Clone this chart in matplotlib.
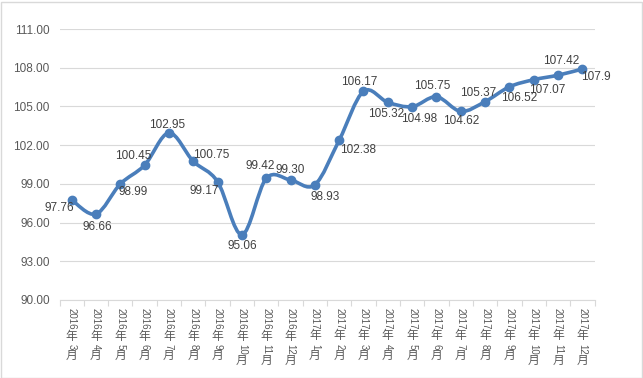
import re
import matplotlib
matplotlib.use("Agg")
import matplotlib.pyplot as plt
from matplotlib.path import Path
from matplotlib.patches import PathPatch, Rectangle

# Daten
months = ["2016年3月", "2016年4月", "2016年5月", "2016年6月", "2016年7月", "2016年8月",
          "2016年9月", "2016年10月", "2016年11月", "2016年12月", "2017年1月", "2017年2月",
          "2017年3月", "2017年4月", "2017年5月", "2017年6月", "2017年7月", "2017年8月",
          "2017年9月", "2017年10月", "2017年11月", "2017年12月"]
values = [97.76, 96.66, 98.99, 100.45, 102.95, 100.75, 99.17, 95.06, 99.42, 99.30, 98.93,
          102.38, 106.17, 105.32, 104.98, 105.75, 104.62, 105.37, 106.52, 107.07, 107.42, 107.9]
value_labels = ["97.76", "96.66", "98.99", "100.45", "102.95", "100.75", "99.17", "95.06",
                "99.42", "99.30", "98.93", "102.38", "106.17", "105.32", "104.98", "105.75",
                "104.62", "105.37", "106.52", "107.07", "107.42", "107.9"]
y_ticks = [90, 93, 96, 99, 102, 105, 108, 111]

# Lage der Beschriftungen (Pixel relativ zum Punkt, +y = nach unten)
label_offsets = [(-12, 8), (1, 13), (13, 8), (-11, -9), (-2, -8), (18, -6), (-13, 9),
                 (0, 11), (-6, -12), (0, -10), (10, 12), (19, 10), (-4, -9), (-2, 12),
                 (7, 12), (-4, -11), (0, 10), (-7, -9), (10, 11), (14, 10), (3, -14), (14, 8)]

LINE = "#4a7ebb"
GRID = "#d9d9d9"
TXT = "#595959"

plt.rcParams["font.family"] = ["Liberation Sans", "Noto Sans CJK SC", "DejaVu Sans"]


def smooth_path(xs, ys):
    # Bezier-Kurve wie Excel "geglättete Linie"
    verts = [(xs[0], ys[0])]
    codes = [Path.MOVETO]
    n = len(xs)
    for i in range(n - 1):
        x0, y0 = (xs[i - 1], ys[i - 1]) if i > 0 else (xs[i], ys[i])
        x3, y3 = (xs[i + 2], ys[i + 2]) if i + 2 < n else (xs[i + 1], ys[i + 1])
        c1 = (xs[i] + (xs[i + 1] - x0) / 6, ys[i] + (ys[i + 1] - y0) / 6)
        c2 = (xs[i + 1] - (x3 - xs[i]) / 6, ys[i + 1] - (y3 - ys[i]) / 6)
        verts += [c1, c2, (xs[i + 1], ys[i + 1])]
        codes += [Path.CURVE4] * 3
    return Path(verts, codes)


fig = plt.figure(figsize=(6.43, 3.78), dpi=100)
ax = fig.add_axes([59.5 / 643, 78 / 378, 535 / 643, 271 / 378])

x = list(range(len(values)))
ax.add_patch(PathPatch(smooth_path(x, values), facecolor="none", edgecolor=LINE,
                       lw=2.6, capstyle="round", joinstyle="round", zorder=3))
ax.plot(x, values, "o", color=LINE, markersize=6, zorder=4)

for xi, v, lab, (dx, dy) in zip(x, values, value_labels, label_offsets):
    ax.annotate(lab, (xi, v), xytext=(dx, -dy), textcoords="offset pixels",
                ha="center", va="center", fontsize=8.5, color="#404040", zorder=5)

ax.set_xlim(-0.5, len(values) - 0.5)
ax.set_ylim(90, 111)
ax.set_yticks(y_ticks)
ax.set_yticklabels([f"{t:.2f}" for t in y_ticks])
ax.tick_params(axis="y", length=0, pad=7, labelsize=8.5, labelcolor=TXT)
ax.grid(axis="y", color=GRID, lw=0.8)
ax.set_axisbelow(True)
for s in ["top", "right", "left"]:
    ax.spines[s].set_visible(False)
ax.spines["bottom"].set_color(GRID)
ax.spines["bottom"].set_linewidth(0.8)
ax.set_xticks([i - 0.5 for i in range(len(values) + 1)])
ax.set_xticklabels([])
ax.tick_params(axis="x", length=4, color=GRID, width=0.8)

# Achsenbeschriftung: Ziffern gedreht, Zeichen aufrecht (wie Excel)
renderer = fig.canvas.get_renderer()
for xi, m in zip(x, months):
    cur = 8
    for piece in re.findall(r"\d+|\D", m):
        if piece.isdigit():
            t = ax.annotate(piece, (xi, 0), xycoords=("data", "axes fraction"),
                            xytext=(0, -cur), textcoords="offset pixels", rotation=270,
                            ha="center", va="top", fontsize=7, color=TXT)
            cur += t.get_window_extent(renderer).height + 1.5
        else:
            ax.annotate(piece, (xi, 0), xycoords=("data", "axes fraction"),
                        xytext=(0, -cur - 5), textcoords="offset pixels",
                        ha="center", va="center", fontsize=8.5, color=TXT,
                        family=["Noto Sans CJK SC", "DejaVu Sans"])
            cur += 12.5

fig.patches.append(Rectangle((0.5 / 643, 0.5 / 378), 641.5 / 643, 376 / 378,
                             transform=fig.transFigure, fill=False, edgecolor=GRID, lw=1))

fig.savefig("out.png", dpi=100)
